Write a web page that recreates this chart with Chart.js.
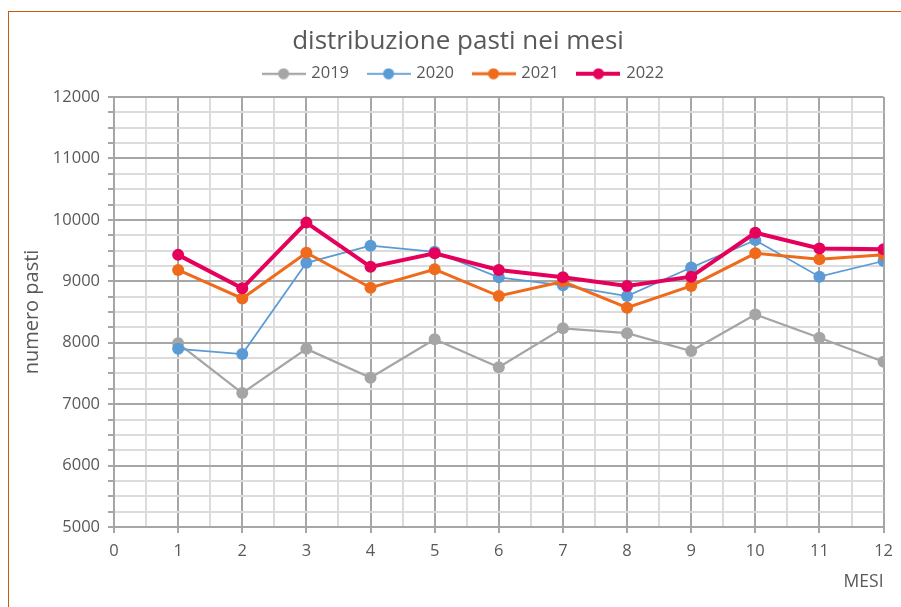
<!DOCTYPE html>
<html>
<head>
<meta charset="utf-8">
<script src="https://cdn.jsdelivr.net/npm/chart.js@4"></script>
<style>
  html, body { margin: 0; padding: 0; background: #fff; overflow: hidden; width: 901px; height: 607px; }
  #cornice { position: absolute; left: 8px; top: 11px; width: 892px; height: 596px;
             border-top: 1px solid #C55A11; border-left: 1px solid #C55A11; }
  canvas { display: block; }
</style>
</head>
<body>
<div id="cornice"><canvas id="grafico" width="892" height="595"></canvas></div>
<script>
// dati
const mesi = [1, 2, 3, 4, 5, 6, 7, 8, 9, 10, 11, 12];
const anni = ['2019', '2020', '2021', '2022'];
const pasti2019 = [7990, 7180, 7900, 7430, 8055, 7600, 8235, 8155, 7865, 8460, 8080, 7690];
const pasti2020 = [7900, 7815, 9300, 9580, 9480, 9065, 8935, 8760, 9225, 9670, 9075, 9330];
const pasti2021 = [9185, 8720, 9465, 8895, 9195, 8760, 8995, 8570, 8925, 9455, 9360, 9430];
const pasti2022 = [9430, 8885, 9955, 9235, 9455, 9185, 9065, 8925, 9075, 9790, 9535, 9520];

const serie = [pasti2019, pasti2020, pasti2021, pasti2022];
const colori = ['#A5A5A5', '#5B9BD5', '#EF6A1A', '#E5005C'];
const spessori = [2.25, 1.75, 3, 4];

const testo = '#595959';
const font = 'Open Sans';

// simbolo legenda: linea con pallino
function marcatore(colore, spessore) {
  const c = document.createElement('canvas');
  c.width = 44; c.height = 12;
  const g = c.getContext('2d');
  g.strokeStyle = colore;
  g.lineWidth = spessore;
  g.beginPath(); g.moveTo(0, 6); g.lineTo(44, 6); g.stroke();
  g.fillStyle = colore;
  g.beginPath(); g.arc(22, 6, 5.5, 0, Math.PI * 2); g.fill();
  return c;
}

const griglia = passo => ctx =>
  (ctx.tick && Math.abs(ctx.tick.value % passo) < 1e-6) ? '#A6A6A6' : '#DCDCDC';

// un po' di spazio sotto la legenda e leggero spostamento a destra
const spostaLegenda = {
  id: 'spostaLegenda',
  afterInit(chart) {
    const lg = chart.legend;
    const fit = lg.fit.bind(lg);
    const draw = lg.draw.bind(lg);
    lg.fit = function () { fit(); this.height += 5; };
    lg.draw = function () { this.ctx.save(); this.ctx.translate(6, 0); draw(); this.ctx.restore(); };
  }
};

const datasets = anni.map((anno, i) => ({
  label: anno,
  data: mesi.map((m, j) => ({x: m, y: serie[i][j]})),
  borderColor: colori[i],
  backgroundColor: colori[i],
  borderWidth: spessori[i],
  pointRadius: 6,
  pointBorderWidth: 0,
  pointBackgroundColor: colori[i],
  tension: 0,
  order: anni.length - i
}));

new Chart(document.getElementById('grafico'), {
  type: 'line',
  data: {datasets},
  plugins: [spostaLegenda],
  options: {
    responsive: false,
    animation: false,
    layout: {padding: {left: 23, right: 17, top: 0, bottom: 0}},
    plugins: {
      tooltip: {enabled: false},
      title: {
        display: true,
        text: 'distribuzione pasti nei mesi',
        color: testo,
        font: {family: font, size: 26, weight: 'normal'},
        padding: {top: 6, bottom: -11.85}
      },
      legend: {
        labels: {
          color: testo,
          font: {family: font, size: 16.5},
          usePointStyle: true,
          pointStyleWidth: 39,
          padding: 20,
          sort: (a, b) => a.datasetIndex - b.datasetIndex,
          generateLabels: chart => {
            const voci = Chart.defaults.plugins.legend.labels.generateLabels(chart);
            voci.forEach(v => { v.pointStyle = marcatore(colori[v.datasetIndex], spessori[v.datasetIndex]); });
            return voci;
          }
        }
      }
    },
    scales: {
      x: {
        type: 'linear',
        min: 0, max: 12,
        afterFit: s => { s.height = 80; },
        ticks: {
          stepSize: 0.5,
          autoSkip: false,
          maxRotation: 0,
          padding: 8,
          color: testo,
          font: {family: font, size: 16.5},
          callback: v => Number.isInteger(v) ? v : ''
        },
        grid: {
          color: griglia(1),
          lineWidth: 2,
          tickLength: 6,
          tickColor: ctx => (ctx.tick && Number.isInteger(ctx.tick.value)) ? '#A6A6A6' : 'rgba(0,0,0,0)'
        },
        border: {color: '#A6A6A6', width: 2},
        title: {
          display: true,
          text: 'MESI',
          align: 'end',
          color: testo,
          font: {family: font, size: 17.5},
          padding: {top: 0, bottom: 14.5}
        }
      },
      y: {
        min: 5000, max: 12000,
        afterFit: s => { s.width = 82; s.paddingTop = 85; },
        ticks: {
          stepSize: 250,
          autoSkip: false,
          padding: 8,
          color: testo,
          font: {family: font, size: 16.5},
          callback: v => v % 1000 === 0 ? String(v) : ''
        },
        grid: {
          color: griglia(1000),
          lineWidth: 2,
          tickLength: 6,
          tickColor: '#A6A6A6'
        },
        border: {color: '#A6A6A6', width: 2},
        title: {
          display: true,
          text: 'numero pasti',
          color: testo,
          font: {family: font, size: 20},
          padding: {top: -12, bottom: 0}
        }
      }
    }
  }
});
</script>
</body>
</html>
